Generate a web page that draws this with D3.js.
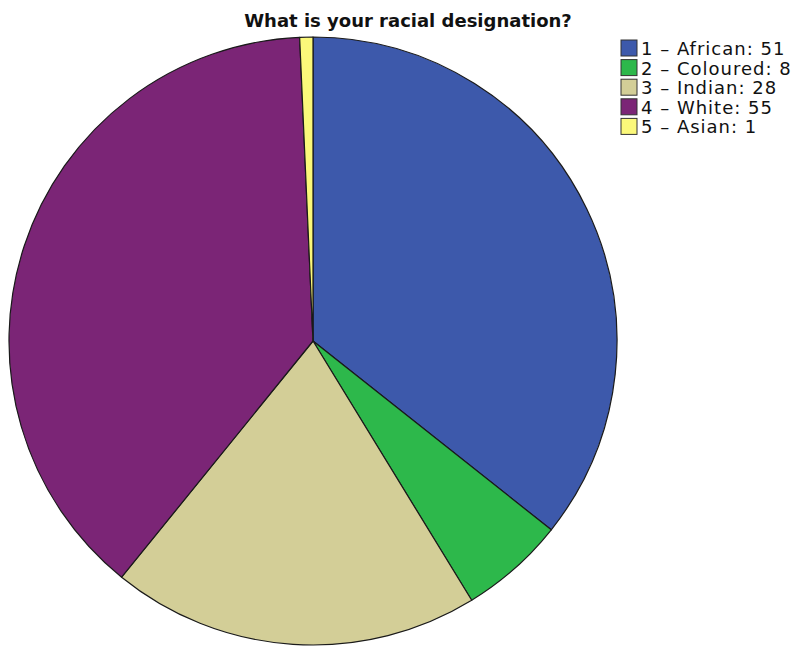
<!DOCTYPE html>
<html>
<head>
<meta charset="utf-8">
<script src="https://cdn.jsdelivr.net/npm/d3@7"></script>
<style>
  body { margin: 0; background: #fff; }
  svg { display: block; }
</style>
</head>
<body>
<svg id="chart" width="805" height="646"></svg>
<script>
const categories = ["1 – African", "2 – Coloured", "3 – Indian", "4 – White", "5 – Asian"];
const counts = [51, 8, 28, 55, 1];
const colors = ["#3d59ab", "#2db84b", "#d3ce97", "#7b2576", "#fbf87a"];
const title = "What is your racial designation?";

const svg = d3.select("#chart");
const cx = 313, cy = 341, radius = 304;

const data = categories.map((c, i) => ({ label: c, value: counts[i], color: colors[i] }));

const pie = d3.pie().value(d => d.value).sort(null);
const arc = d3.arc().innerRadius(0).outerRadius(radius);

svg.append("g")
  .attr("transform", `translate(${cx},${cy})`)
  .selectAll("path")
  .data(pie(data))
  .join("path")
  .attr("d", arc)
  .attr("fill", d => d.data.color)
  .attr("stroke", "#1a1a1a")
  .attr("stroke-width", 1.2)
  .attr("stroke-linejoin", "round");

svg.append("text")
  .attr("x", 408)
  .attr("y", 27)
  .attr("text-anchor", "middle")
  .attr("font-family", "'DejaVu Sans', sans-serif")
  .attr("font-weight", "bold")
  .attr("font-size", 18)
  .attr("fill", "#111")
  .text(title);

const legend = svg.append("g").attr("transform", "translate(621,40)");
const rows = legend.selectAll("g")
  .data(data)
  .join("g")
  .attr("transform", (d, i) => `translate(0,${i * 19.6})`);

rows.append("rect")
  .attr("width", 16)
  .attr("height", 16)
  .attr("fill", d => d.color)
  .attr("stroke", "#333")
  .attr("stroke-width", 1);

rows.append("text")
  .attr("x", 20)
  .attr("y", 15)
  .attr("font-family", "'DejaVu Sans', sans-serif")
  .attr("font-size", 18)
  .attr("letter-spacing", 1)
  .attr("fill", "#111")
  .text(d => `${d.label}: ${d.value}`);
</script>
</body>
</html>
